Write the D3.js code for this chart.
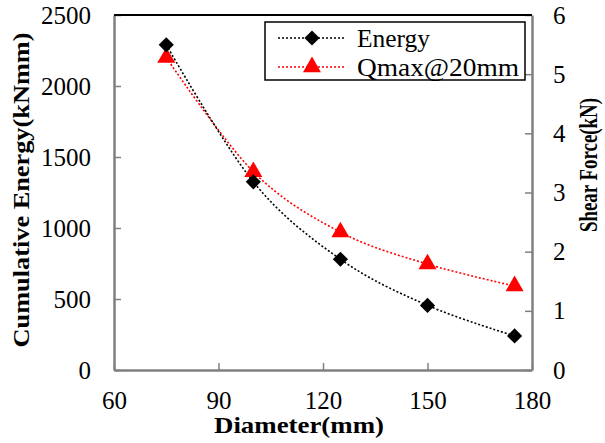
<!DOCTYPE html>
<html>
<head>
<meta charset="utf-8">
<script src="https://cdn.jsdelivr.net/npm/d3@7"></script>
<style>
  body { margin: 0; background: #fff; }
  text { font-family: "Liberation Serif", "Times New Roman", serif; }
</style>
</head>
<body>
<div id="chart"></div>
<script>
var diameters = [75, 100, 125, 150, 175];
var energy = [2290, 1325, 780, 455, 240];
var qmax = [5.28, 3.35, 2.33, 1.79, 1.42];
var xTicks = [60, 90, 120, 150, 180];
var leftTicks = [0, 500, 1000, 1500, 2000, 2500];
var rightTicks = [0, 1, 2, 3, 4, 5, 6];

var width = 605, height = 443;
var pLeft = 114, pRight = 532, pTop = 15, pBottom = 370;

var svg = d3.select('#chart').append('svg')
  .attr('width', width)
  .attr('height', height);

var x = d3.scaleLinear().domain([60, 180]).range([pLeft, pRight]);
var yL = d3.scaleLinear().domain([0, 2500]).range([pBottom, pTop]);
var yR = d3.scaleLinear().domain([0, 6]).range([pBottom, pTop]);

var gray = '#808080';

// axes, ticks point inward
var gx = svg.append('g').attr('transform', 'translate(0,' + pBottom + ')')
  .call(d3.axisBottom(x).tickValues(xTicks).tickSizeInner(-7).tickSizeOuter(0).tickPadding(19));
var gl = svg.append('g').attr('transform', 'translate(' + pLeft + ',0)')
  .call(d3.axisLeft(yL).tickValues(leftTicks).tickFormat(d3.format('d')).tickSizeInner(-7).tickSizeOuter(0).tickPadding(23));
var gr = svg.append('g').attr('transform', 'translate(' + pRight + ',0)')
  .call(d3.axisRight(yR).tickValues(rightTicks).tickFormat(d3.format('d')).tickSizeInner(-7).tickSizeOuter(0).tickPadding(21));

[gx, gl, gr].forEach(function(g){
  g.select('.domain').attr('stroke', gray).attr('stroke-width', 2.5);
  g.selectAll('.tick line').attr('stroke', gray).attr('stroke-width', 1.5);
  g.selectAll('.tick text').attr('fill', '#000')
    .attr('font-size', 25).attr('font-family', '"Liberation Serif", serif');
});
gx.selectAll('.tick text').attr('dy', '0.8em');

// top border
svg.append('line')
  .attr('x1', pLeft).attr('x2', pRight)
  .attr('y1', pTop).attr('y2', pTop)
  .attr('stroke', '#000').attr('stroke-width', 2);

var curve = d3.curveCardinal.tension(0);

var lineE = d3.line()
  .x(function(d, i){ return x(diameters[i]); })
  .y(function(d){ return yL(d); })
  .curve(curve);
var lineQ = d3.line()
  .x(function(d, i){ return x(diameters[i]); })
  .y(function(d){ return yR(d); })
  .curve(curve);

svg.append('path').attr('d', lineQ(qmax))
  .attr('fill', 'none').attr('stroke', '#ff0000')
  .attr('stroke-width', 1.6).attr('stroke-dasharray', '2,2');
svg.append('path').attr('d', lineE(energy))
  .attr('fill', 'none').attr('stroke', '#000')
  .attr('stroke-width', 1.6).attr('stroke-dasharray', '2,2');

var diamond = d3.symbol().type(d3.symbolSquare).size(115);
var tri = d3.symbol().type(d3.symbolTriangle).size(140);

svg.selectAll('.tri').data(qmax).enter().append('path')
  .attr('class', 'tri')
  .attr('d', tri)
  .attr('transform', function(d, i){ return 'translate(' + x(diameters[i]) + ',' + yR(d) + ')'; })
  .attr('fill', '#ff0000');

svg.selectAll('.dia').data(energy).enter().append('path')
  .attr('class', 'dia')
  .attr('d', diamond)
  .attr('transform', function(d, i){ return 'translate(' + x(diameters[i]) + ',' + yL(d) + ') rotate(45)'; })
  .attr('fill', '#000');

// legend
var lg = svg.append('g');
lg.append('rect').attr('x', 265).attr('y', 22).attr('width', 260).attr('height', 58)
  .attr('fill', '#fff').attr('stroke', '#000').attr('stroke-width', 1.5);
var legendItems = [
  {name: 'Energy', color: '#000', sym: diamond, rot: 45, len: 73},
  {name: 'Qmax@20mm', color: '#ff0000', sym: tri, rot: 0, len: 162}
];
legendItems.forEach(function(d, i){
  var ly = 38 + i * 29;
  lg.append('line').attr('x1', 278).attr('x2', 345).attr('y1', ly).attr('y2', ly)
    .attr('stroke', d.color).attr('stroke-width', 1.6).attr('stroke-dasharray', '2,2');
  lg.append('path').attr('d', d.sym)
    .attr('transform', 'translate(312,' + ly + ') rotate(' + d.rot + ')')
    .attr('fill', d.color);
  lg.append('text').attr('x', 357).attr('y', ly + 9)
    .attr('font-size', 25)
    .attr('textLength', d.len).attr('lengthAdjust', 'spacingAndGlyphs')
    .text(d.name);
});

// axis titles
svg.append('text')
  .attr('transform', 'translate(29,190) rotate(-90)')
  .attr('text-anchor', 'middle')
  .attr('font-size', 24).attr('font-weight', 'bold')
  .attr('textLength', 315).attr('lengthAdjust', 'spacingAndGlyphs')
  .text('Cumulative Energy(kNmm)');
svg.append('text')
  .attr('transform', 'translate(597,165) rotate(-90)')
  .attr('text-anchor', 'middle')
  .attr('font-size', 26).attr('font-weight', 'bold')
  .attr('textLength', 134).attr('lengthAdjust', 'spacingAndGlyphs')
  .text('Shear Force(kN)');
svg.append('text')
  .attr('x', 299).attr('y', 433)
  .attr('text-anchor', 'middle')
  .attr('font-size', 24).attr('font-weight', 'bold')
  .attr('textLength', 170).attr('lengthAdjust', 'spacingAndGlyphs')
  .text('Diameter(mm)');
</script>
</body>
</html>
